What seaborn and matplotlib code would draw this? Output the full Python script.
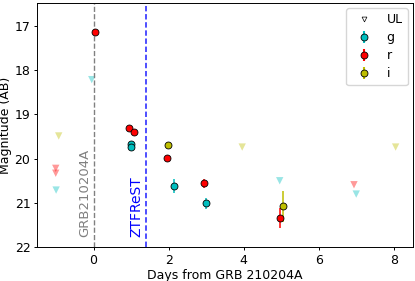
import matplotlib
matplotlib.use("Agg")
import matplotlib.pyplot as plt
import seaborn as sns
import pandas as pd
from matplotlib.lines import Line2D

# detections per band: days from GRB, magnitude, error
g_days = [0.99, 0.99, 2.13, 3.00]
g_mag = [19.67, 19.74, 20.62, 21.01]
g_err = [0.04, 0.04, 0.15, 0.13]

r_days = [0.03, 0.94, 1.07, 1.96, 2.93, 4.98]
r_mag = [17.15, 19.30, 19.40, 19.99, 20.56, 21.34]
r_err = [0.03, 0.04, 0.04, 0.04, 0.10, 0.22]

i_days = [1.97, 5.06]
i_mag = [19.70, 21.08]
i_err = [0.05, 0.35]

# upper limits per band
ul_g_days = [-0.05, -1.00, 4.96, 7.00]
ul_g_mag = [18.22, 20.71, 20.50, 20.80]
ul_r_days = [-1.01, -1.01, 6.94]
ul_r_mag = [20.22, 20.33, 20.59]
ul_i_days = [-0.93, 3.96, 8.05]
ul_i_mag = [19.49, 19.74, 19.74]

t_ztfrest = 1.39

colors = {"g": "c", "r": "r", "i": "y"}

ul = pd.DataFrame({
    "days": ul_g_days + ul_r_days + ul_i_days,
    "mag": ul_g_mag + ul_r_mag + ul_i_mag,
    "band": ["g"] * len(ul_g_days) + ["r"] * len(ul_r_days) + ["i"] * len(ul_i_days),
})

plt.rcParams.update(plt.rcParamsDefault)
fig, ax = plt.subplots(figsize=(4.15, 2.81), dpi=100)

sns.scatterplot(data=ul, x="days", y="mag", hue="band", palette=colors,
                marker="v", s=28, alpha=0.4, edgecolor="none", legend=False, ax=ax)

for band, d, m, e in [("g", g_days, g_mag, g_err), ("r", r_days, r_mag, r_err),
                      ("i", i_days, i_mag, i_err)]:
    ax.errorbar(d, m, yerr=e, fmt="o", color=colors[band], mec="k", mew=0.6,
                ms=5, elinewidth=1.1, zorder=3)

ax.axvline(0, color="gray", ls="--", lw=1)
ax.axvline(t_ztfrest, color="b", ls="--", lw=1.3, alpha=0.75, dashes=(3, 1.5))
ax.text(-0.07, 21.77, "GRB210204A", rotation=90, color="gray", fontsize=9.5,
        ha="right", va="bottom")
ax.text(t_ztfrest - 0.07, 21.77, "ZTFReST", rotation=90, color="b", fontsize=10,
        ha="right", va="bottom")

handles = [
    Line2D([], [], marker="v", ls="none", mfc="white", mec="k", ms=3.5, mew=0.5),
    ax.errorbar([], [], yerr=[], fmt="o", color="c", mec="k", mew=0.6, ms=5),
    ax.errorbar([], [], yerr=[], fmt="o", color="r", mec="k", mew=0.6, ms=5),
    ax.errorbar([], [], yerr=[], fmt="o", color="y", mec="k", mew=0.6, ms=5),
]
ax.legend(handles, ["UL", "g", "r", "i"], loc="upper right", fontsize=9,
          handlelength=2.0, labelspacing=0.4, borderaxespad=0.4)

ax.set_xlim(-1.5, 8.5)
ax.set_ylim(22, 16.5)
ax.set_xticks([0, 2, 4, 6, 8])
ax.set_yticks([17, 18, 19, 20, 21, 22])
ax.tick_params(labelsize=9, length=2.5, pad=2.5, width=0.7)
for s in ax.spines.values():
    s.set_linewidth(0.7)
ax.set_xlabel("Days from GRB 210204A", fontsize=9, labelpad=1.5)
ax.set_ylabel("Magnitude (AB)", fontsize=9, labelpad=1.5)

fig.subplots_adjust(left=0.09, right=0.994, top=0.988, bottom=0.12)
fig.savefig("out.png", dpi=100)
